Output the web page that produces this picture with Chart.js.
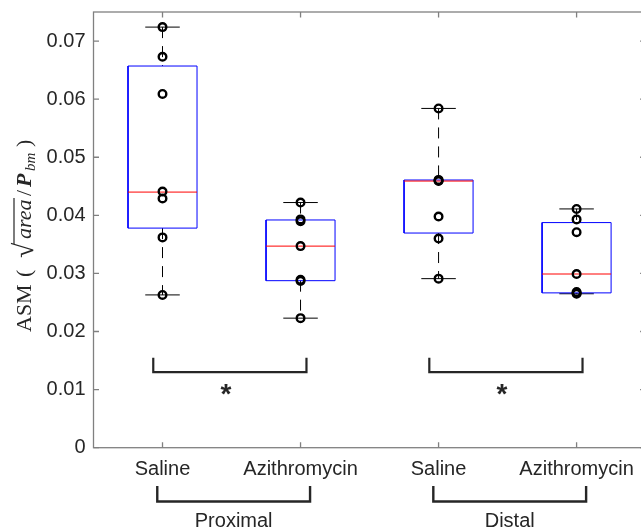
<!DOCTYPE html>
<html>
<head>
<meta charset="utf-8">
<script src="https://cdn.jsdelivr.net/npm/chart.js@4.4.1/dist/chart.umd.min.js"></script>
<style>
html,body{margin:0;padding:0;overflow:hidden;background:#fff;width:641px;height:530px;}
canvas{display:block;}
</style>
</head>
<body>
<canvas id="c" width="660" height="530"></canvas>
<script>
// ---- data ----
const categories = ['Saline', 'Azithromycin', 'Saline', 'Azithromycin'];
const groups = ['Proximal', 'Distal'];
const yTicks = [0, 0.01, 0.02, 0.03, 0.04, 0.05, 0.06, 0.07];

const q1          = [0.0378, 0.02875, 0.03695, 0.02665];
const medians     = [0.0440, 0.0347,  0.0459,  0.0299];
const q3          = [0.0657, 0.0392,  0.04608, 0.03875];
const whiskerLow  = [0.0263, 0.0223,  0.0291,  0.0265];
const whiskerHigh = [0.0724, 0.0422,  0.0584,  0.0411];

const proximalSaline = [0.0724, 0.0673, 0.0609, 0.0441, 0.0429, 0.0362, 0.0263];
const proximalAzithro = [0.0422, 0.0393, 0.0390, 0.0347, 0.0289, 0.0287, 0.0223];
const distalSaline = [0.0584, 0.0461, 0.0460, 0.0459, 0.0398, 0.0360, 0.0291];
const distalAzithro = [0.0411, 0.0393, 0.0371, 0.0299, 0.0268, 0.0266, 0.0265];
const samples = [proximalSaline, proximalAzithro, distalSaline, distalAzithro];

const sigPairs = [[1, 2], [3, 4]];   // compared boxes
const sigLabels = ['*', '*'];

// ---- styling ----
const TXT = '#262626';
const AXIS = '#808080';
const SANS = '"Liberation Sans", Arial, Helvetica, sans-serif';
const SERIF = '"Liberation Serif", "Times New Roman", serif';
const HALF_BOX = 0.25, HALF_CAP = 0.125;

const datasets = [];
categories.forEach((cat, i) => {
  const c = i + 1;
  const seg = (pts, color, width, dash, order) => datasets.push({
    data: pts, showLine: true, borderColor: color, borderWidth: width,
    borderDash: dash, pointRadius: 0, pointHoverRadius: 0, fill: false, order
  });
  seg([{x: c, y: whiskerHigh[i]}, {x: c, y: q3[i]}], '#000', 1, [11, 8], 5);
  seg([{x: c, y: q1[i]}, {x: c, y: whiskerLow[i]}], '#000', 1, [11, 8], 5);
  seg([{x: c - HALF_CAP, y: whiskerHigh[i]}, {x: c + HALF_CAP, y: whiskerHigh[i]}], '#000', 1, [], 4);
  seg([{x: c - HALF_CAP, y: whiskerLow[i]}, {x: c + HALF_CAP, y: whiskerLow[i]}], '#000', 1, [], 4);
  seg([{x: c - HALF_BOX, y: q1[i]}, {x: c + HALF_BOX, y: q1[i]}, {x: c + HALF_BOX, y: q3[i]},
       {x: c - HALF_BOX, y: q3[i]}, {x: c - HALF_BOX, y: q1[i]}], '#0000ff', 1, [], 3);
  seg([{x: c - HALF_BOX, y: medians[i]}, {x: c + HALF_BOX, y: medians[i]}], '#ff0000', 1, [], 2);
  datasets.push({
    data: samples[i].map(v => ({x: c, y: v})),
    showLine: false, pointRadius: 3.8, pointHoverRadius: 3.8, pointBorderWidth: 2.4,
    pointBorderColor: '#000', pointBackgroundColor: 'rgba(0,0,0,0)', order: 0
  });
});
// significance brackets inside the axes
sigPairs.forEach(([a, b]) => {
  datasets.push({
    data: [{x: a - 0.067, y: 0.0155}, {x: a - 0.067, y: 0.0130}, {x: b + 0.043, y: 0.0130}, {x: b + 0.043, y: 0.0155}],
    showLine: true, borderColor: TXT, borderWidth: 2.2, pointRadius: 0, pointHoverRadius: 0,
    borderJoinStyle: 'miter', borderCapStyle: 'butt', fill: false, order: 1
  });
});

const decor = {
  id: 'decor',
  afterDraw(chart) {
    const {ctx, chartArea: a, scales: {x, y}} = chart;
    ctx.save();
    // frame
    ctx.strokeStyle = AXIS; ctx.lineWidth = 1.3;
    ctx.strokeRect(a.left, a.top, a.right - a.left, a.bottom - a.top);
    const TL = 5.5;
    ctx.beginPath();
    yTicks.forEach(v => {
      const py = y.getPixelForValue(v);
      ctx.moveTo(a.left, py); ctx.lineTo(a.left + TL, py);
      ctx.moveTo(a.right, py); ctx.lineTo(a.right - TL, py);
    });
    categories.forEach((c, i) => {
      const px = x.getPixelForValue(i + 1);
      ctx.moveTo(px, a.bottom); ctx.lineTo(px, a.bottom - TL);
      ctx.moveTo(px, a.top); ctx.lineTo(px, a.top + TL);
    });
    ctx.stroke();

    // asterisks
    ctx.fillStyle = TXT;
    ctx.font = 'bold 28px ' + SANS;
    ctx.textAlign = 'center'; ctx.textBaseline = 'alphabetic';
    sigPairs.forEach(([p, q], k) => {
      const px = x.getPixelForValue((p + q) / 2 - 0.04);
      const py = y.getPixelForValue(0.0096);
      ctx.fillText(sigLabels[k], px, py + 11);
    });

    // group brackets under the tick labels
    ctx.strokeStyle = TXT; ctx.lineWidth = 2.4; ctx.lineJoin = 'miter';
    ctx.font = '20px ' + SANS;
    sigPairs.forEach(([p, q], k) => {
      const l = x.getPixelForValue(p - 0.038), r = x.getPixelForValue(q + 0.069);
      ctx.beginPath();
      ctx.moveTo(l, 486); ctx.lineTo(l, 501.5); ctx.lineTo(r, 501.5); ctx.lineTo(r, 486);
      ctx.stroke();
      ctx.fillText(groups[k], (l + r) / 2, 527);
    });

    // y-axis title: ASM ( sqrt(area)/P_bm )
    ctx.save();
    ctx.translate(31, 332);
    ctx.rotate(-Math.PI / 2);
    ctx.textAlign = 'left'; ctx.textBaseline = 'alphabetic';
    ctx.font = '22px ' + SERIF;
    ctx.fillText('ASM', 0, 0);
    ctx.fillText('(', 55, 0);
    ctx.font = '28px ' + SERIF;
    ctx.fillText('\u221A', 74, 2);
    ctx.font = 'italic 22px ' + SERIF;
    ctx.fillText('area', 93, 0);
    ctx.lineWidth = 1.2; ctx.strokeStyle = TXT;
    ctx.beginPath(); ctx.moveTo(88, -17); ctx.lineTo(134, -17); ctx.stroke();
    ctx.font = '22px ' + SERIF;
    ctx.fillText('/', 136, 0);
    ctx.font = 'italic bold 22px ' + SERIF;
    ctx.fillText('P', 145, 0);
    ctx.font = 'italic 15px ' + SERIF;
    ctx.fillText('bm', 161, 4);
    ctx.font = '22px ' + SERIF;
    ctx.fillText(')', 185, 0);
    ctx.restore();

    ctx.restore();
  }
};

new Chart(document.getElementById('c'), {
  type: 'scatter',
  data: {datasets},
  options: {
    responsive: false,
    animation: false,
    events: [],
    layout: {padding: {left: 0, right: 14.4, top: 12, bottom: 0}},
    plugins: {legend: {display: false}, tooltip: {enabled: false}, title: {display: false}},
    scales: {
      x: {
        type: 'linear', min: 0.5, max: 4.5,
        grid: {display: false, drawTicks: false}, border: {display: false},
        afterBuildTicks: s => { s.ticks = categories.map((c, i) => ({value: i + 1})); },
        afterFit: s => { s.height = 82.3; s.paddingLeft = 0; s.paddingRight = 0; },
        ticks: {
          color: TXT, font: {family: SANS, size: 20}, padding: 10, maxRotation: 0, autoSkip: false,
          callback: v => categories[Math.round(v) - 1]
        }
      },
      y: {
        type: 'linear', min: 0, max: 0.075,
        grid: {display: false, drawTicks: false}, border: {display: false},
        afterBuildTicks: s => { s.ticks = yTicks.map(v => ({value: v})); },
        afterFit: s => { s.width = 93.5; s.paddingTop = 0; s.paddingBottom = 0; },
        ticks: {
          color: TXT, font: {family: SANS, size: 20}, padding: 8,
          callback: v => v === 0 ? '0' : v.toFixed(2)
        }
      }
    }
  },
  plugins: [decor]
});
</script>
</body>
</html>
